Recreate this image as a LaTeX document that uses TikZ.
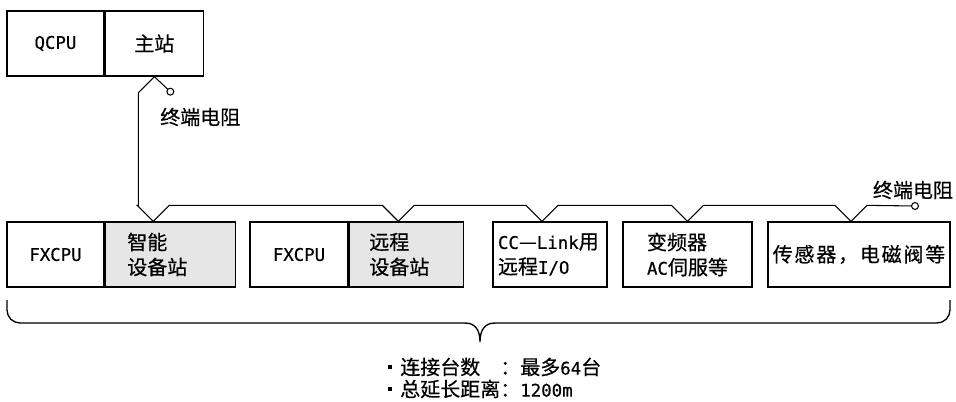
\documentclass[tikz,border=0pt]{standalone}
\usepackage{fontspec}
\setmainfont{Noto Sans CJK SC}[FakeBold=0.5]
\newfontfamily\hwfont{DejaVu Sans Mono}[Scale=0.87, FakeBold=0.5]
\newfontfamily\widefont{Noto Sans CJK SC}[LetterSpace=9, FakeBold=0.5]
\newcommand{\hw}[1]{{\hwfont #1}}
\newcommand{\bul}{\raisebox{4pt}{\rule{3pt}{3pt}}\hspace{6pt}}
\definecolor{stgray}{RGB}{230,230,230}
\usetikzlibrary{positioning}
\tikzset{
    box/.style={draw, line width=1pt, minimum height=48.75pt, inner sep=0pt},
    station/.style={box, fill=stgray, align=left},
    bus/.style={line width=0.8pt},
}
\begin{document}
\begin{tikzpicture}[x=0.75pt, y=-0.75pt, font=\fontsize{15pt}{18.75pt}\selectfont]
    \useasboundingbox (0,0) rectangle (956,401);

    % master station
    \node[box, minimum width=72.75pt] (qcpu) at (55.5,43.5) {\hw{QCPU}};
    \node[box, minimum width=73.5pt, right=0pt of qcpu] (master) {主站};

    % slave stations
    \node[box, minimum width=72.75pt] (fx1) at (55.5,254.5) {\hw{FXCPU}};
    \node[station, right=0pt of fx1, inner xsep=16.5pt, text width=64.5pt] (smart) {智能\\设备站};
    \node[box, minimum width=73.5pt] (fx2) at (299,254.5) {\hw{FXCPU}};
    \node[station, right=0pt of fx2, inner xsep=15pt, text width=55.5pt] (remote) {远程\\设备站};
    \node[box, align=left, inner xsep=3.75pt, text width=78pt] (rio) at (550,254.5) {\hw{CC}—\hw{Link}用\\远程\hw{I/O}};
    \node[box, minimum width=96.75pt, align=left] (inv) at (687.5,254.5) {变频器\\\hw{AC}伺服等};
    \node[box, minimum width=136.5pt] (sensor) at (859,254.5) {{\widefont 传感器，电磁阀等}};

    % taps on the bus
    \foreach \n/\s in {smart/-12.75pt, remote/-6pt, rio/-6pt, inv/0pt, sensor/-6pt}
        \coordinate (\n-tap) at ([xshift=\s]\n.north);
    \coordinate (rterm) at (915,206);

    \draw[bus] (master.south) -- ++(-16,16) |- ([shift={(-16,-16)}]smart-tap) -- (smart-tap) -- ++(16,-16)
        \foreach \n in {remote, rio, inv, sensor} { -- ([shift={(-16,-16)}]\n-tap) -- (\n-tap) -- ++(16,-16) }
        -- (rterm);
    \draw[bus] (master.south) -- ++(16,15) coordinate (lterm);
    \draw[bus, fill=white] (lterm) circle (2.6pt);
    \draw[bus, fill=white] (rterm) circle (2.6pt);
    \node[anchor=west, inner sep=0pt] (lterm-lbl) at (160,117) {终端电阻};
    \node[inner sep=0pt] (rterm-lbl) at (913,190) {终端电阻};

    % brace under all slaves
    \draw[line width=1pt] (7,300) -- (7,310) arc[start angle=180, end angle=270, radius=9.75pt] -- (465,323)
        .. controls (476,323) and (480,331) .. (480,342) .. controls (480,331) and (484,323) .. (495,323)
        -- (937,323) arc[start angle=270, end angle=360, radius=9.75pt] -- (950,300);
    \node[anchor=west, align=left, inner sep=0pt, font=\fontsize{15pt}{16.5pt}\selectfont] (note) at (388,378)
        {\bul 连接台数　：最多\hw{64}台\\\bul 总延长距离：\hw{1200m}};
\end{tikzpicture}
\end{document}
